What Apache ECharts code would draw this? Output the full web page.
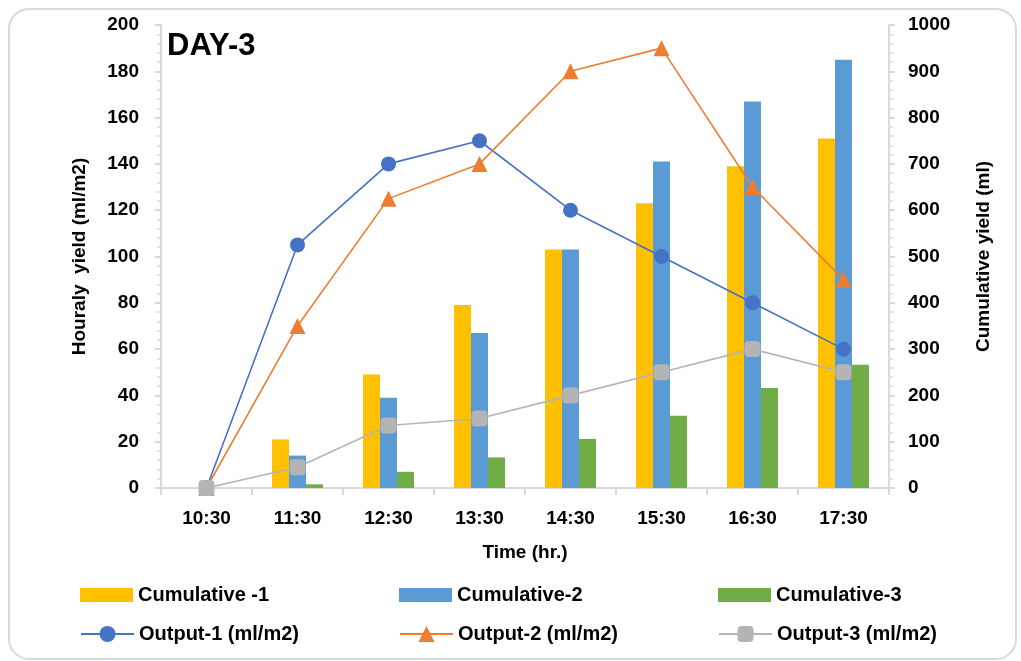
<!DOCTYPE html>
<html>
<head>
<meta charset="utf-8">
<script src="https://cdn.jsdelivr.net/npm/echarts@6/dist/echarts.min.js"></script>
<style>
  html, body { margin: 0; padding: 0; background: #fff; }
  #chart { width: 1021px; height: 661px; }
</style>
</head>
<body>
<div id="chart"></div>
<script>
// Day-3 yield measurements
const times = ['10:30', '11:30', '12:30', '13:30', '14:30', '15:30', '16:30', '17:30'];

// cumulative yield (ml), right axis
const cumulative1 = [0, 105, 245, 395, 515, 615, 695, 755];
const cumulative2 = [0, 70, 195, 335, 515, 705, 835, 925];
const cumulative3 = [0, 8, 35, 66, 106, 156, 216, 266];

// hourly yield (ml/m2), left axis
const output1 = [0, 105, 140, 150, 120, 100, 80, 60];
const output2 = [0, 70, 125, 140, 180, 190, 130, 90];
const output3 = [0, 9, 27, 30, 40, 50, 60, 50];

const FONT = '"Liberation Sans", Arial, sans-serif';
const axisGrey = '#d9d9d9';

const chart = echarts.init(document.getElementById('chart'));

function legendAt(name, left, top, isBar) {
  return {
    data: [isBar ? { name: name, icon: 'rect' } : name],
    left: left, top: top, padding: 0,
    itemWidth: 53, itemHeight: isBar ? 14 : 20,
    textStyle: { fontFamily: FONT, fontWeight: 'bold', fontSize: 20, color: '#000' }
  };
}

const barBase = { type: 'bar', yAxisIndex: 1, barGap: '0%', barCategoryGap: '44%', z: 2 };
const lineBase = { type: 'line', yAxisIndex: 0, z: 5 };

chart.setOption({
  animation: false,
  backgroundColor: '#fff',
  textStyle: { fontFamily: FONT },
  graphic: [{
    type: 'rect',
    shape: { x: 9, y: 9, width: 1007, height: 650, r: 20 },
    style: { fill: 'none', stroke: '#d9d9d9', lineWidth: 2 },
    z: -1
  }],
  title: {
    text: 'DAY-3', left: 167, top: 31, padding: 0,
    textStyle: { fontFamily: FONT, fontWeight: 'bold', fontSize: 31, color: '#000' }
  },
  grid: { left: 161, right: 132, top: 25, bottom: 173, containLabel: false },
  legend: [
    legendAt('Cumulative -1', 80, 585, true),
    legendAt('Cumulative-2', 399, 585, true),
    legendAt('Cumulative-3', 718, 585, true),
    legendAt('Output-1 (ml/m2)', 80, 624, false),
    legendAt('Output-2 (ml/m2)', 399, 624, false),
    legendAt('Output-3 (ml/m2)', 718, 624, false)
  ],
  xAxis: {
    type: 'category', data: times, boundaryGap: true,
    name: 'Time (hr.)', nameLocation: 'middle', nameGap: 55,
    nameTextStyle: { fontFamily: FONT, fontWeight: 'bold', fontSize: 19, color: '#000' },
    axisLine: { lineStyle: { color: axisGrey, width: 2 } },
    axisTick: { show: true, length: 7, interval: 0, lineStyle: { color: axisGrey, width: 2 } },
    axisLabel: { margin: 21, fontFamily: FONT, fontWeight: 'bold', fontSize: 19, color: '#000' }
  },
  yAxis: [{
    type: 'value', min: 0, max: 200, interval: 20, position: 'left',
    name: 'Houraly  yield (ml/m2)', nameLocation: 'middle', nameRotate: 90, nameGap: 72,
    nameTextStyle: { fontFamily: FONT, fontWeight: 'bold', fontSize: 19, color: '#000' },
    axisLine: { show: true, lineStyle: { color: axisGrey, width: 2 } },
    axisTick: { show: true, length: 6, lineStyle: { color: axisGrey, width: 2 } },
    minorTick: { show: true, splitNumber: 5, length: 4, lineStyle: { color: axisGrey, width: 1.5 } },
    splitLine: { show: false },
    axisLabel: { margin: 22, fontFamily: FONT, fontWeight: 'bold', fontSize: 19, color: '#000' }
  }, {
    type: 'value', min: 0, max: 1000, interval: 100, position: 'right',
    name: 'Cumulative yield (ml)', nameLocation: 'middle', nameRotate: 90, nameGap: 85,
    nameTextStyle: { fontFamily: FONT, fontWeight: 'bold', fontSize: 19, color: '#000' },
    axisLine: { show: true, lineStyle: { color: axisGrey, width: 2 } },
    axisTick: { show: true, length: 6, lineStyle: { color: axisGrey, width: 2 } },
    minorTick: { show: true, splitNumber: 5, length: 4, lineStyle: { color: axisGrey, width: 1.5 } },
    splitLine: { show: false },
    axisLabel: {
      margin: 19, fontFamily: FONT, fontWeight: 'bold', fontSize: 19, color: '#000',
      formatter: v => String(v)
    }
  }],
  series: [
    Object.assign({}, barBase, { name: 'Cumulative -1', data: cumulative1, itemStyle: { color: '#ffc000' } }),
    Object.assign({}, barBase, { name: 'Cumulative-2', data: cumulative2, itemStyle: { color: '#5b9bd5' } }),
    Object.assign({}, barBase, { name: 'Cumulative-3', data: cumulative3, itemStyle: { color: '#70ad47' } }),
    Object.assign({}, lineBase, {
      name: 'Output-1 (ml/m2)', data: output1, symbol: 'circle', symbolSize: 15,
      itemStyle: { color: '#4472c4' }, lineStyle: { width: 1.6, color: '#4472c4' }
    }),
    Object.assign({}, lineBase, {
      name: 'Output-2 (ml/m2)', data: output2, symbol: 'triangle', symbolSize: 16,
      itemStyle: { color: '#ed7d31' }, lineStyle: { width: 1.6, color: '#ed7d31' }
    }),
    Object.assign({}, lineBase, {
      name: 'Output-3 (ml/m2)', data: output3, symbol: 'roundRect', symbolSize: 16,
      itemStyle: { color: '#b4b4b4' }, lineStyle: { width: 1.6, color: '#b4b4b4' }
    })
  ]
});
</script>
</body>
</html>
